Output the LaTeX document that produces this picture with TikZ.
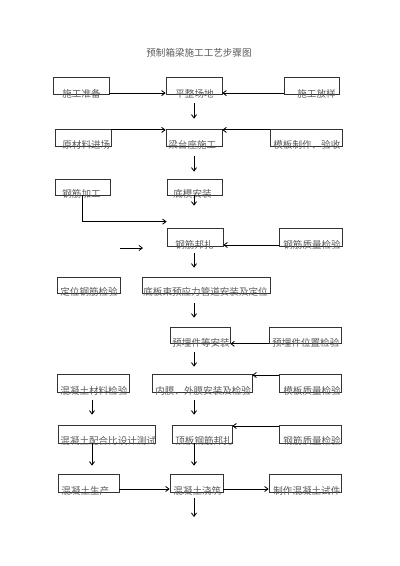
\documentclass[tikz,border=0pt]{standalone}
\usepackage{fontspec}
\usepackage{tikz}
\usetikzlibrary{arrows.meta,fit,positioning}
\newfontfamily\cjk{Noto Sans CJK SC}
\colorlet{txtgray}{black!65}

\begin{document}
\begin{tikzpicture}[->,auto,x=0.025cm,y=-0.025cm]
\tikzstyle{box}=[rectangle,draw=black!80,line width=0.5pt,inner sep=0pt,fit={#1}]
\tikzstyle{txt}=[anchor=west,inner sep=0pt,text=txtgray,font=\cjk\fontsize{6.8pt}{8pt}\selectfont]
\tikzset{>={Straight Barb[length=2.4pt,width=3.6pt]},every path/.style={line width=0.6pt}}
\useasboundingbox (0,0) rectangle (400,566);
\node [txt,anchor=center] (title) at (199,53) {预制箱梁施工工艺步骤图};
\coordinate (mid) at (194,0);
\coordinate (left) at (92,0);
\node [box={(53,77) (109,94)}] (1) {};
\node [box={(166,77) (222,94)}] (2) {};
\node [box={(284,77) (339,94)}] (3) {};
\node [box={(55,129) (111,146)}] (4) {};
\node [box={(166,129) (222,146)}] (5) {};
\node [box={(270,129) (342,146)}] (6) {};
\node [box={(55,179) (110,195)}] (7) {};
\node [box={(167,179) (222,195)}] (8) {};
\node [box={(167,228) (223,246)}] (9) {};
\node [box={(279,228) (342,246)}] (10) {};
\node [box={(57,277) (120,293)}] (11) {};
\node [box={(142,277) (270,293)}] (12) {};
\node [box={(170,327) (230,343)}] (13) {};
\node [box={(269,327) (341,343)}] (14) {};
\node [box={(57,374) (129,392)}] (15) {};
\node [box={(152,374) (252,392)}] (16) {};
\node [box={(279,374) (341,392)}] (17) {};
\node [box={(58,425) (155,443)}] (18) {};
\node [box={(172,425) (232,443)}] (19) {};
\node [box={(279,425) (341,443)}] (20) {};
\node [box={(58,474) (119,492)}] (21) {};
\node [box={(170,474) (223,492)}] (22) {};
\node [box={(269,474) (341,492)}] (23) {};
\node [txt] (t1) at (62,94) {施工准备};
\node [txt] (t2) at (175,94) {平整场地};
\node [txt] (t3) at (297,94) {施工放样};
\node [txt] (t4) at (62,145) {原材料进场};
\node [txt] (t5) at (168,145) {梁台座施工};
\node [txt] (t6) at (273,145) {模板制作、验收};
\node [txt] (t7) at (62,194) {钢筋加工};
\node [txt] (t8) at (173,194) {底模安装};
\node [txt] (t9) at (175,245) {钢筋邦扎};
\node [txt] (t10) at (283,245) {钢筋质量检验};
\node [txt] (t11) at (60,292) {定位钢筋检验};
\node [txt] (t12) at (143,292) {底板束预应力管道安装及定位};
\node [txt] (t13) at (172,343) {预埋件等安装};
\node [txt] (t14) at (272,343) {预埋件位置检验};
\node [txt] (t15) at (60,391) {混凝土材料检验};
\node [txt] (t16) at (155,391) {内膜、外膜安装及检验};
\node [txt] (t17) at (283,391) {模板质量检验};
\node [txt] (t18) at (60,441) {混凝土配合比设计测试};
\node [txt] (t19) at (175,441) {顶板钢筋邦扎};
\node [txt] (t20) at (283,441) {钢筋质量检验};
\node [txt] (t21) at (61,491) {混凝土生产};
\node [txt] (t22) at (173,491) {混凝土浇筑};
\node [txt] (t23) at (273,491) {制作混凝土试件};
\coordinate (s1) at (120,248);
\coordinate (s2) at (143,248);
\coordinate (end) at (194,517);
\path ([yshift=-0.19cm]1.east) edge ([yshift=-0.19cm]2.west);
\path ([yshift=-0.19cm]3.west) edge ([yshift=-0.19cm]2.east);
\path (mid |- 2.south) edge[shorten <=0.225cm,shorten >=0.25cm] (mid |- 5.north);
\path ([yshift=0.19cm]4.east) edge ([yshift=0.19cm]5.west);
\path ([yshift=0.19cm]6.west) edge ([yshift=0.19cm]5.east);
\path (mid |- 5.south) edge[shorten <=0.25cm,shorten >=0.175cm] (mid |- 8.north);
\path (mid |- 8.south) edge[shorten >=0.55cm] (mid |- 9.north);
\draw (7.south) |- ([yshift=0.15cm]9.north west);
\path ([yshift=-0.2cm]10.west) edge ([yshift=-0.2cm]9.east);
\path (s1) edge (s2);
\path (mid |- 9.south) edge[shorten <=0.175cm,shorten >=0.225cm] (mid |- 12.north);
\path (mid |- 12.south) edge[shorten <=0.25cm,shorten >=0.225cm] (mid |- 13.north);
\path ([yshift=-0.22cm]14.west) edge ([yshift=-0.22cm]13.east);
\path (mid |- 13.south) edge[shorten <=0.225cm,shorten >=0.175cm] (mid |- 16.north);
\path ([yshift=0.2cm]17.west) edge ([yshift=0.2cm]16.east);
\path (left |- 15.south) edge[shorten <=0.2cm,shorten >=0.25cm] (left |- 18.north);
\path (mid |- 16.south) edge[shorten <=0.2cm,shorten >=0.25cm] (mid |- 19.north);
\path ([yshift=0.2cm]20.west) edge ([yshift=0.2cm]19.east);
\path (left |- 18.south) edge[shorten >=0.2cm] (left |- 21.north);
\path (mid |- 19.south) edge[shorten >=0.2cm] (mid |- 22.north);
\path ([yshift=-0.15cm]21.east) edge ([yshift=-0.15cm]22.west);
\path ([yshift=-0.15cm]22.east) edge ([yshift=-0.15cm]23.west);
\path (mid |- 22.south) edge[shorten <=0.15cm] (end);
\end{tikzpicture}
\end{document}
